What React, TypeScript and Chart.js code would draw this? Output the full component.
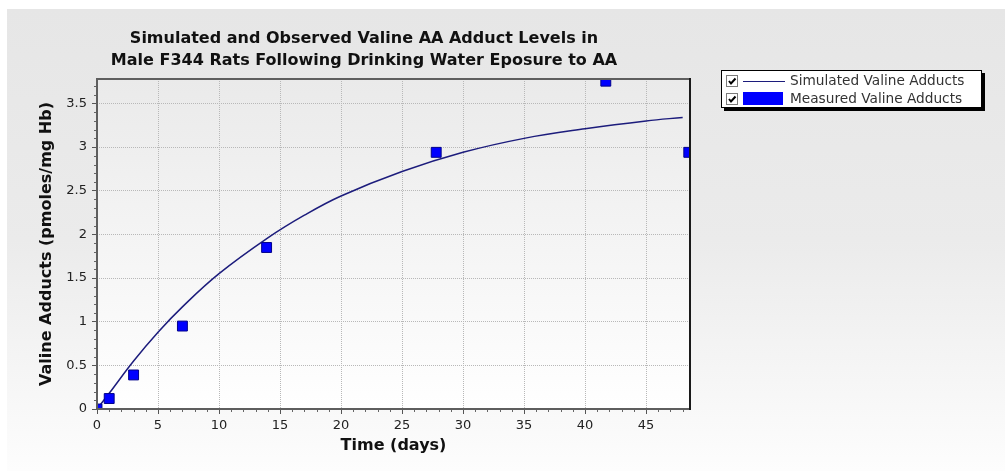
import React, { useEffect, useRef } from 'react';
import { Chart, registerables } from 'chart.js';

Chart.register(...registerables);

const titleLines = [
  'Simulated and Observed Valine AA Adduct Levels in',
  'Male F344 Rats Following Drinking Water Eposure to AA',
];
const xTitle = 'Time (days)';
const yTitle = 'Valine Adducts (pmoles/mg Hb)';
const simLabel = 'Simulated Valine Adducts';
const measLabel = 'Measured Valine Adducts';

const simTime = [0, 1, 3, 5, 7, 10, 14, 17, 20, 25, 30, 35, 40, 45, 48];
const simValue = [0, 0.18, 0.55, 0.88, 1.17, 1.55, 1.96, 2.22, 2.44, 2.72, 2.94, 3.1, 3.21, 3.3, 3.34];

const measTime = [0, 1, 3, 7, 13.9, 27.8, 41.7, 48.5];
const measValue = [0, 0.12, 0.39, 0.95, 1.85, 2.94, 3.755, 2.94];

const xMax = 48.6;
const yMax = 3.78;
const xStep = 5;
const yStep = 0.5;

const FONT = '"DejaVu Sans", Verdana, sans-serif';

const decor = {
  id: 'decor',
  beforeDraw(chart: any) {
    const { ctx, width, height, chartArea: a } = chart;
    ctx.save();
    ctx.fillStyle = '#ffffff';
    ctx.fillRect(0, 0, width, height);
    const g = ctx.createLinearGradient(0, 9, 0, height);
    g.addColorStop(0, '#e6e6e6');
    g.addColorStop(0.5, '#ebebeb');
    g.addColorStop(1, '#fdfdfd');
    ctx.fillStyle = g;
    ctx.fillRect(7, 9, width - 7, height - 9);
    const pg = ctx.createLinearGradient(0, a.top, 0, a.bottom);
    pg.addColorStop(0, '#eaeaea');
    pg.addColorStop(1, '#ffffff');
    ctx.fillStyle = pg;
    ctx.fillRect(a.left, a.top, a.right - a.left, a.bottom - a.top);
    ctx.fillStyle = '#111111';
    ctx.font = 'bold 16px ' + FONT;
    ctx.textAlign = 'center';
    ctx.textBaseline = 'middle';
    titleLines.forEach((t, i) => ctx.fillText(t, 364, 39 + i * 22));
    ctx.restore();
  },
  afterDraw(chart: any) {
    const { ctx, chartArea: a } = chart;
    const xs = chart.scales.x;
    const ys = chart.scales.y;
    ctx.save();
    ctx.strokeStyle = '#666666';
    ctx.lineWidth = 1;
    ctx.beginPath();
    for (let i = 1; i <= Math.floor(xMax); i++) {
      if (i % 5 === 0) continue;
      const px = Math.round(xs.getPixelForValue(i)) + 0.5;
      ctx.moveTo(px, a.bottom);
      ctx.lineTo(px, a.bottom + 3);
    }
    for (let k = 1; k <= Math.floor(yMax * 10); k++) {
      if (k % 5 === 0) continue;
      const py = Math.round(ys.getPixelForValue(k / 10)) + 0.5;
      ctx.moveTo(a.left - 3, py);
      ctx.lineTo(a.left, py);
    }
    ctx.stroke();
    ctx.strokeStyle = '#5e5e5e';
    ctx.lineWidth = 2;
    ctx.beginPath();
    ctx.moveTo(a.right, a.top);
    ctx.lineTo(a.left, a.top);
    ctx.lineTo(a.left, a.bottom);
    ctx.lineTo(a.right, a.bottom);
    ctx.stroke();
    ctx.strokeStyle = '#1a1a1a';
    ctx.beginPath();
    ctx.moveTo(a.right, a.top - 1);
    ctx.lineTo(a.right, a.bottom + 1);
    ctx.stroke();
    ctx.fillStyle = '#111111';
    ctx.font = 'bold 16px ' + FONT;
    ctx.textAlign = 'center';
    ctx.textBaseline = 'middle';
    ctx.fillText(xTitle, (a.left + a.right) / 2, 446);
    ctx.save();
    ctx.translate(47, (a.top + a.bottom) / 2);
    ctx.rotate(-Math.PI / 2);
    ctx.fillText(yTitle, 0, 0);
    ctx.restore();
    const lx = 721, ly = 70, lw = 261, lh = 38;
    ctx.fillStyle = '#000000';
    ctx.fillRect(lx + 3, ly + 3, lw, lh);
    ctx.fillStyle = '#ffffff';
    ctx.fillRect(lx, ly, lw, lh);
    ctx.strokeStyle = '#000000';
    ctx.lineWidth = 1;
    ctx.strokeRect(lx + 0.5, ly + 0.5, lw - 1, lh - 1);
    const rows = [81, 99];
    rows.forEach((cy) => {
      ctx.fillStyle = '#ffffff';
      ctx.fillRect(726, cy - 6, 12, 12);
      ctx.strokeStyle = '#7a7a7a';
      ctx.strokeRect(726.5, cy - 5.5, 11, 11);
      ctx.strokeStyle = '#000000';
      ctx.lineWidth = 2;
      ctx.beginPath();
      ctx.moveTo(729, cy);
      ctx.lineTo(731, cy + 2.5);
      ctx.lineTo(735.5, cy - 2.5);
      ctx.stroke();
      ctx.lineWidth = 1;
    });
    ctx.strokeStyle = '#1c1c7c';
    ctx.lineWidth = 1.2;
    ctx.beginPath();
    ctx.moveTo(743, rows[0] + 0.5);
    ctx.lineTo(785, rows[0] + 0.5);
    ctx.stroke();
    ctx.fillStyle = '#0000ff';
    ctx.fillRect(743, rows[1] - 7, 40, 13);
    ctx.fillStyle = '#333333';
    ctx.font = '13.7px ' + FONT;
    ctx.textAlign = 'left';
    ctx.textBaseline = 'middle';
    ctx.fillText(simLabel, 790, rows[0]);
    ctx.fillText(measLabel, 790, rows[1]);
    ctx.restore();
  },
};

const fmt = (v: any) => String(Number(Number(v).toFixed(2)));

export default function App() {
  const ref = useRef<HTMLCanvasElement | null>(null);
  useEffect(() => {
    document.body.style.margin = '0';
    const canvas = ref.current;
    if (!canvas) return;
    const chart = new Chart(canvas, {
      type: 'scatter',
      data: {
        datasets: [
          {
            label: measLabel,
            data: measTime.map((t, i) => ({ x: t, y: measValue[i] })),
            showLine: false,
            pointStyle: 'rect',
            pointRadius: 7,
            backgroundColor: '#0000ff',
            borderColor: '#00008b',
            borderWidth: 1,
            clip: 0,
          },
          {
            label: simLabel,
            data: simTime.map((t, i) => ({ x: t, y: simValue[i] })),
            showLine: true,
            pointRadius: 0,
            borderColor: '#1c1c7c',
            borderWidth: 1.5,
            tension: 0.4,
            fill: false,
            clip: 0,
          },
        ],
      } as any,
      options: {
        responsive: false,
        devicePixelRatio: 1,
        animation: false,
        events: [],
        layout: { padding: { top: 79, right: 315, bottom: 0, left: 0 } },
        plugins: { legend: { display: false }, title: { display: false }, tooltip: { enabled: false } },
        scales: {
          x: {
            type: 'linear',
            min: 0,
            max: xMax,
            afterFit: (s: any) => {
              s.height = 62;
            },
            ticks: {
              stepSize: xStep,
              includeBounds: false,
              maxRotation: 0,
              padding: 4,
              color: '#222222',
              font: { family: FONT, size: 13 },
              callback: fmt,
            },
            grid: { color: '#b8b8b8', tickColor: '#555555', tickLength: 5, lineWidth: 1 },
            border: { display: false, dash: [1, 1] },
          },
          y: {
            type: 'linear',
            min: 0,
            max: yMax,
            afterFit: (s: any) => {
              s.width = 97;
            },
            ticks: {
              stepSize: yStep,
              includeBounds: false,
              padding: 5,
              color: '#222222',
              font: { family: FONT, size: 13 },
              callback: fmt,
            },
            grid: { color: '#b8b8b8', tickColor: '#555555', tickLength: 5, lineWidth: 1 },
            border: { display: false, dash: [1, 1] },
          },
        },
      } as any,
      plugins: [decor],
    });
    return () => chart.destroy();
  }, []);
  return <canvas ref={ref} width={1005} height={471} style={{ display: 'block' }} />;
}
